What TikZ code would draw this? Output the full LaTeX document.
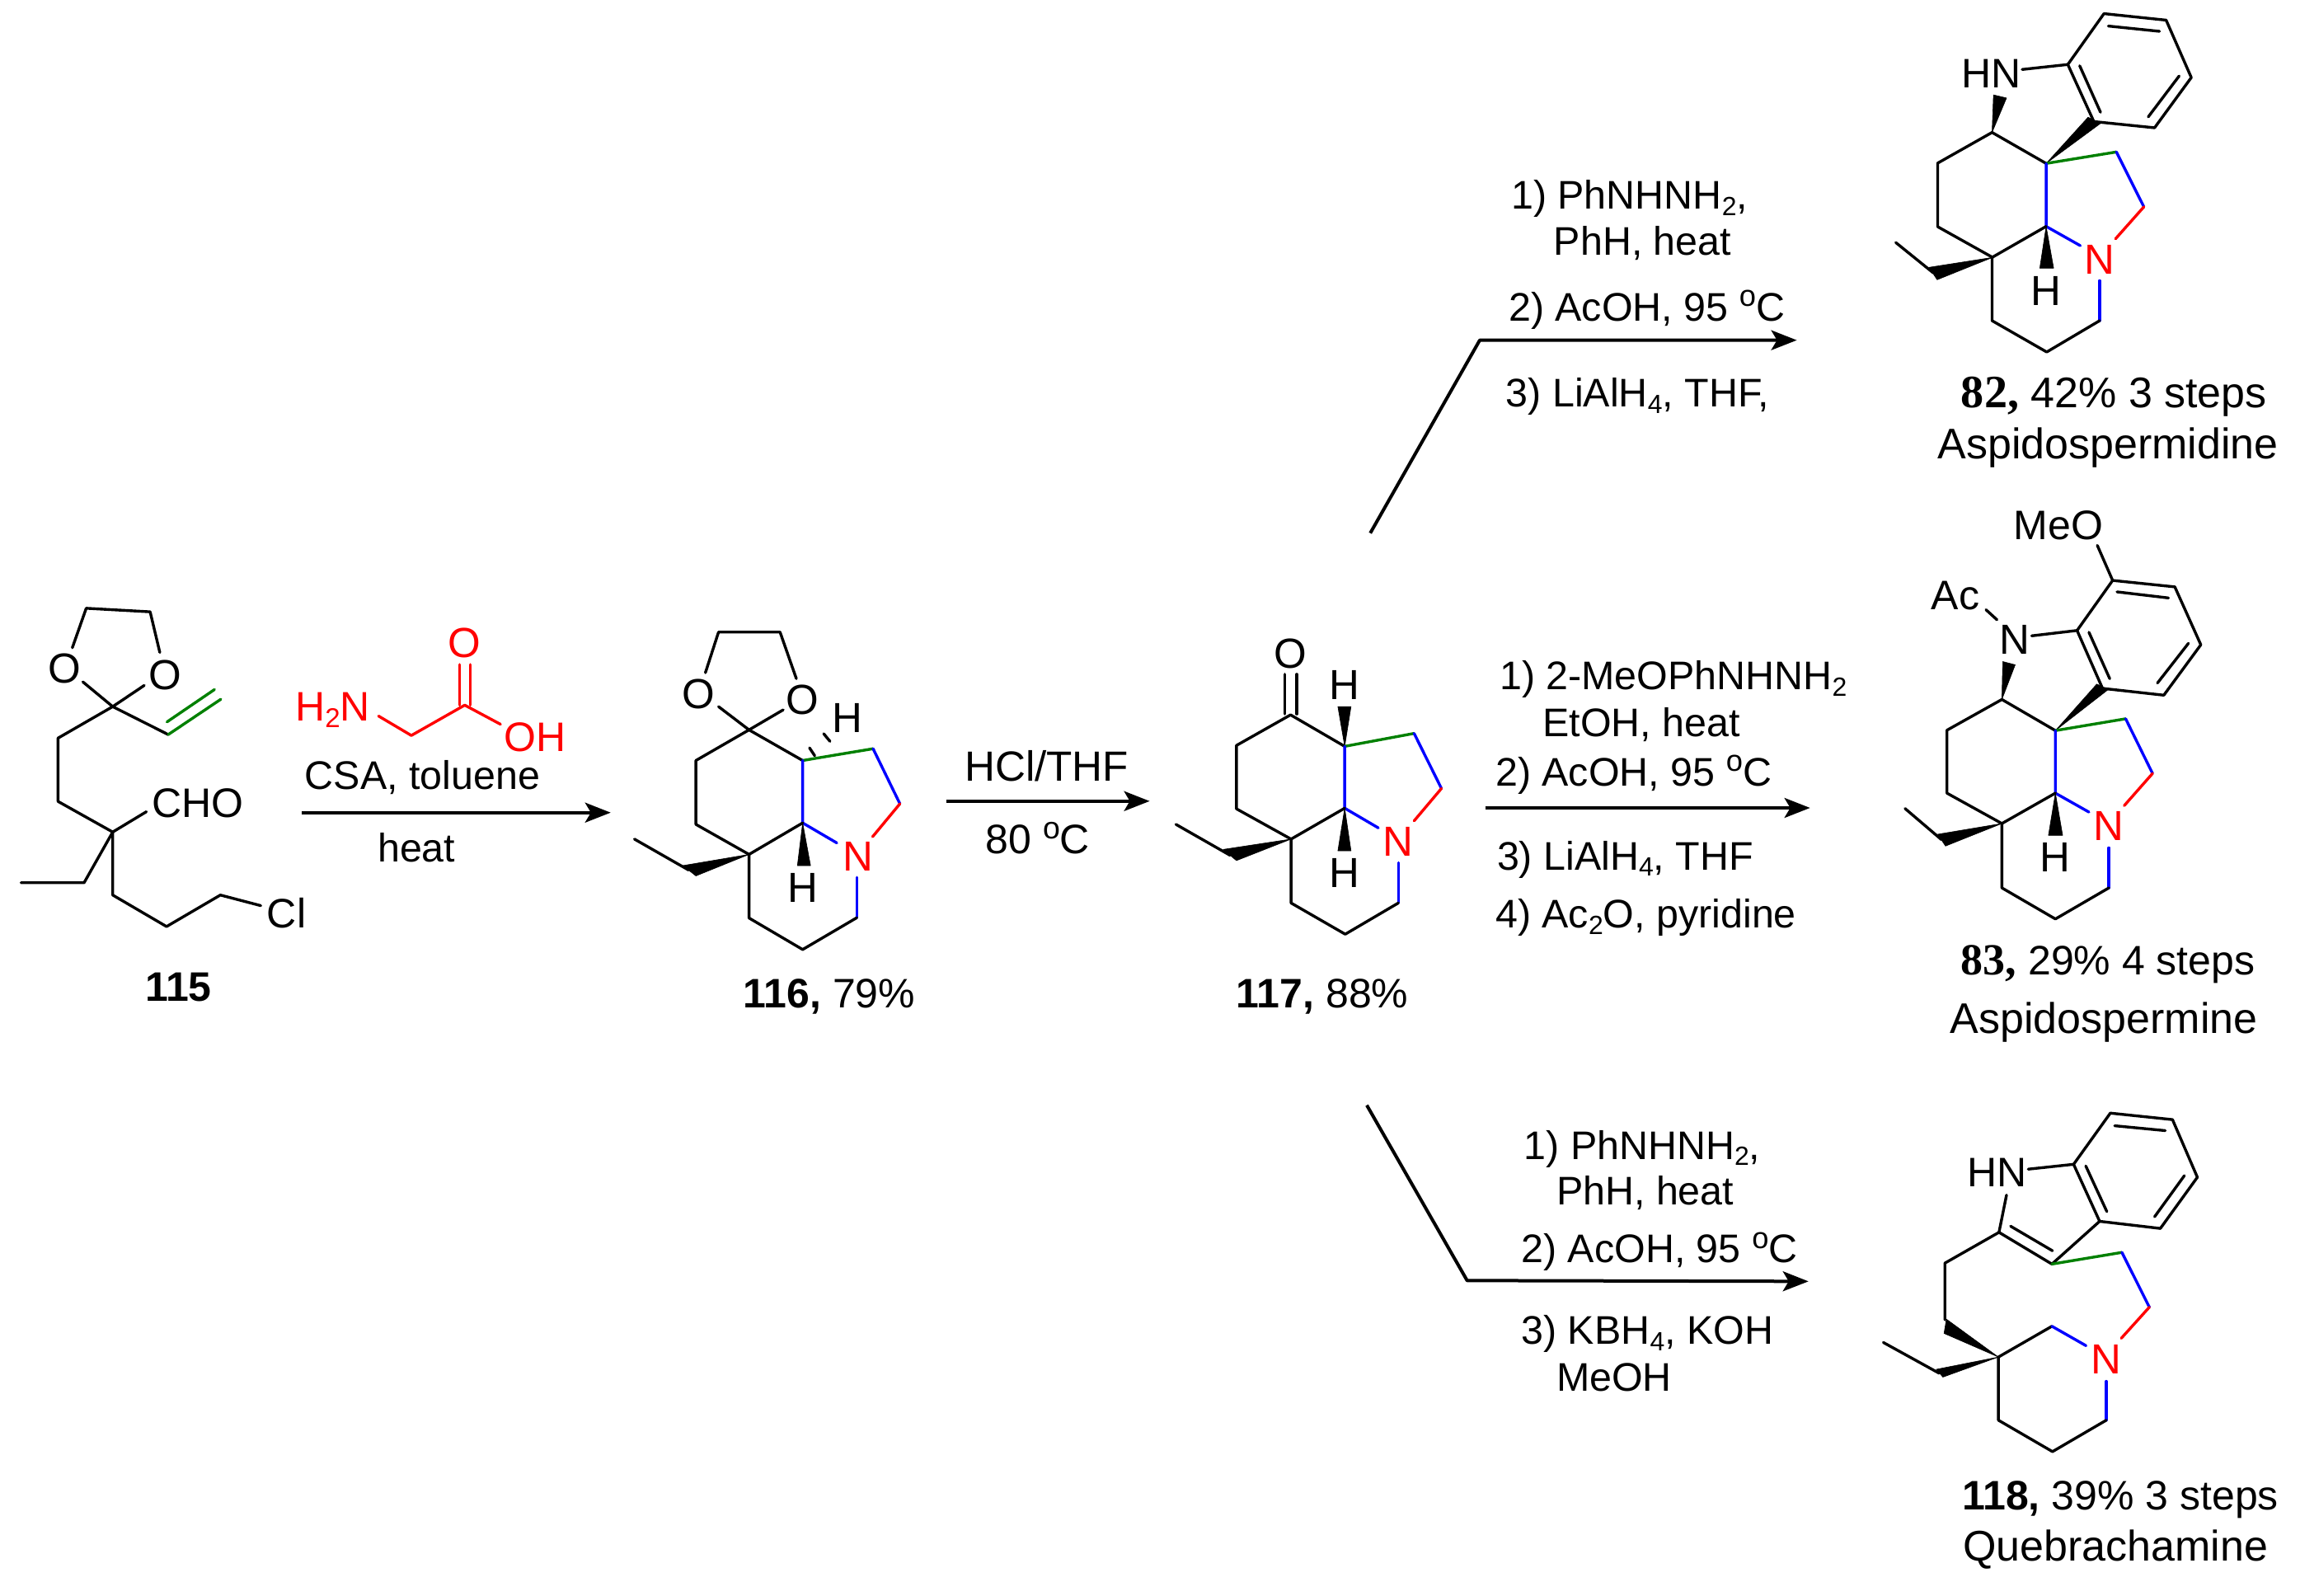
\documentclass[tikz,border=0pt]{standalone}
\usepackage{fontspec}
\usepackage{graphicx}
\setmainfont{Liberation Sans}
\newfontfamily\timesb{Liberation Serif}[Scale=1.08]
\usetikzlibrary{arrows.meta}
\definecolor{chemgreen}{RGB}{0,128,0}
\definecolor{chemblue}{RGB}{0,0,255}
\definecolor{chemred}{RGB}{255,0,0}
\newcommand{\subs}[1]{\raisebox{-.16em}{\scalebox{.66}{#1}}}
\newcommand{\degr}{\raisebox{.36em}{\scalebox{.75}{o}}}
\tikzset{
  bond/.style={line width=1.7pt,line cap=round,line join=round,black},
  bondg/.style={bond,chemgreen},
  bondb/.style={bond,chemblue},
  bondr/.style={bond,chemred},
  wedgeb/.style={fill=black,draw=black,line width=.3pt,line join=round},
  rxn/.style={line width=2pt,line join=round,-{Stealth[length=15.5pt,width=12pt,inset=3.5pt]}},
  txt/.style={anchor=base west,inner sep=0pt,outer sep=0pt,font=\fontsize{24.2}{28}\selectfont},
  txtb/.style={txt,font=\fontsize{25}{28}\selectfont},
  lbl/.style={txt,font=\fontsize{26}{30}\selectfont},
  atom/.style={anchor=center,inner sep=0pt,outer sep=0pt,font=\fontsize{25.5}{28}\selectfont},
  atomr/.style={atom,text=chemred},
  crop/.style n args={4}{shift={(#1*0.5pt,-#2*0.5pt)},x=#3pt,y=-#4pt},
}
\begin{document}
\begin{tikzpicture}
\useasboundingbox (0,0) rectangle (1395pt,-968pt);

% ---- 115, glycine, first arrow
\begin{scope}[crop={0}{700}{0.2551}{0.17857}]
\draw[bond] (172,240)--(205,106)--(357,118)--(380,256);
\node[atom] (o1a) at (153,311) {O};
\node[atom] (o1b) at (392,332) {O};
\draw[bond] (197,356)--(268,440)--(343,368);
\draw[bond] (268,440)--(138,547)--(138,762)--(268,866);
\draw[bond] (268,440)--(400,535);
\draw[bondg] (400,535)--(525,415) (397,492)--(510,382);
\draw[bond] (268,866)--(348,797);
\node[txtb] (cho) at (362,817) {CHO};
\draw[bond] (268,866)--(200,1038)--(50,1038);
\draw[bond] (268,866)--(268,1080)--(396,1187)--(524,1080)--(620,1116);
\node[txtb] (cl) at (635,1190) {Cl};
\node[txtb,font=\fontsize{25}{28}\selectfont\bfseries] (n115) at (345,1440) {115};
% glycine
\node[txtb,text=chemred] (h2n) at (702,488) {H\subs{2}N};
\draw[bondr] (900,472)--(978,538)--(1105,435)--(1190,500);
\draw[bondr] (1093,435)--(1093,297) (1118,435)--(1118,297);
\node[atomr] (gO) at (1105,223) {O};
\node[txtb,text=chemred] (gOH) at (1198,592) {OH};
\node[txt] (csa) at (725,722) {CSA, toluene};
\node[txt] (heat1) at (898,968) {heat};
\coordinate (a1s) at (718,800);
\coordinate (a1e) at (1452,800);
\draw[rxn] (a1s)--(a1e);
\end{scope}

% ---- 116, 117, second arrow
\begin{scope}[crop={760}{700}{0.31888}{0.17857}]
\draw[bond] (150,325)--(175,187)--(292,187)--(323,345);
\node[atom] (o2a) at (137,398) {O};
\node[atom] (o2b) at (335,417) {O};
\draw[bond] (175,440)--(233,519)--(298,451);
\draw[bond] (233,519)--(132,623)--(132,840)--(233,942);
\draw[bond] (233,519)--(335,623);
\draw[bond] (348,580)--(358,607) (375,532)--(387,558);
\node[atom] (h2a) at (420,480) {H};
\draw[bondg] (335,623)--(469,583);
\draw[bondb] (335,623)--(335,835) (469,583)--(520,770);
\draw[bondr] (520,770)--(468,882);
\draw[bondb] (335,835)--(400,903);
\node[atomr] (n2) at (440,948) {N};
\draw[bondb] (438,1020)--(438,1157);
\draw[bond] (438,1157)--(335,1265)--(233,1158)--(233,942)--(335,835);
\fill[wedgeb] (335,835)--(325,980)--(350,980)--cycle;
\node[atom] (h2b) at (335,1055) {H};
\fill[wedgeb] (233,942)--(107,980)--(132,1015)--cycle;
\draw[bond] (15,890)--(118,995);
\node[txtb] (n116) at (222,1462) {\textbf{116,} 79\%};
% arrow 2
\node[txt,font=\fontsize{25.6}{28}\selectfont] (hcl) at (643,692) {HCl/THF};
\node[txt,font=\fontsize{25}{28}\selectfont] (t80) at (683,940) {80 \degr C};
\coordinate (a2s) at (608,761);
\coordinate (a2e) at (995,761);
\draw[rxn] (a2s)--(a2e);
% 117
\node[atom] (o3) at (1263,260) {O};
\draw[bond] (1252,465)--(1252,330) (1275,465)--(1275,330);
\draw[bond] (1263,468)--(1160,572)--(1160,787)--(1264,890);
\draw[bond] (1263,468)--(1366,575);
\fill[wedgeb] (1366,575)--(1353,440)--(1378,440)--cycle;
\node[atom] (h3a) at (1366,367) {H};
\draw[bondg] (1366,575)--(1498,531);
\draw[bondb] (1366,575)--(1366,785) (1498,531)--(1550,718);
\draw[bondr] (1550,718)--(1498,828);
\draw[bondb] (1366,785)--(1430,852);
\node[atomr] (n3) at (1468,898) {N};
\draw[bondb] (1468,970)--(1468,1107);
\draw[bond] (1468,1107)--(1367,1213)--(1264,1107)--(1264,890)--(1366,785);
\fill[wedgeb] (1366,785)--(1353,930)--(1378,930)--cycle;
\node[atom] (h3b) at (1366,1005) {H};
\fill[wedgeb] (1264,890)--(1135,925)--(1160,963)--cycle;
\draw[bond] (1045,840)--(1148,945);
\node[txtb] (n117) at (1160,1462) {\textbf{117,} 88\%};
\end{scope}

% ---- 82
\begin{scope}[crop={2240}{0}{0.17538}{0.18811}]
\node[txtb] (hn82) at (398,282) {HN};
\draw[bond] (607,224)--(765,208);
\draw[bond] (765,208)--(890,44)--(1105,65)--(1192,250)--(1065,412)--(855,392)--cycle;
\draw[bond] (905,84)--(1082,101) (1150,245)--(1043,377) (806,212)--(878,362);
\fill[wedgeb] (690,527)--(835,378)--(878,398)--cycle;
\fill[wedgeb] (503,427)--(508,306)--(553,316)--cycle;
\draw[bond] (690,527)--(503,427)--(315,526)--(315,731)--(505,830);
\draw[bondg] (690,527)--(933,490);
\draw[bondb] (690,527)--(690,730) (933,490)--(1028,667);
\draw[bondr] (1028,667)--(930,770);
\draw[bondb] (690,730)--(808,792);
\node[atomr] (n82) at (875,838) {N};
\draw[bondb] (875,905)--(875,1034);
\draw[bond] (875,1034)--(692,1135)--(503,1034)--(503,830)--(690,730);
\fill[wedgeb] (690,730)--(668,865)--(716,865)--cycle;
\node[atom] (h82) at (690,938) {H};
\fill[wedgeb] (505,830)--(285,862)--(313,902)--cycle;
\draw[bond] (170,782)--(300,880);
\node[lbl] (l82) at (396,1315) {{\timesb\bfseries 82,} 42\% 3 steps};
\node[lbl] (a82) at (315,1478) {Aspidospermidine};
\end{scope}

% ---- 83
\begin{scope}[crop={2240}{600}{0.17538}{0.21683}]
\node[txtb] (meo) at (578,126) {MeO};
\draw[bond] (867,142)--(920,240);
\draw[bond] (920,240)--(1135,258)--(1225,420)--(1097,561)--(885,542)--(797,380)--cycle;
\draw[bond] (935,272)--(1113,289) (1182,416)--(1075,527) (838,385)--(910,515);
\node[atom] (n83a) at (580,405) {N};
\node[txtb] (ac) at (293,322) {Ac};
\draw[bond] (482,322)--(520,350);
\draw[bond] (640,395)--(797,380);
\fill[wedgeb] (722,660)--(865,530)--(905,545)--cycle;
\fill[wedgeb] (537,573)--(540,467)--(583,476)--cycle;
\draw[bond] (722,660)--(537,573)--(347,659)--(347,835)--(537,920);
\draw[bondg] (722,660)--(965,627);
\draw[bondb] (722,660)--(722,835) (965,627)--(1058,780);
\draw[bondr] (1058,780)--(960,870);
\draw[bondb] (722,835)--(838,888);
\node[atomr] (n83) at (907,928) {N};
\draw[bondb] (907,988)--(907,1100);
\draw[bond] (907,1100)--(722,1187)--(537,1100)--(537,920)--(722,835);
\fill[wedgeb] (722,835)--(698,953)--(747,953)--cycle;
\node[atom] (h83) at (722,1015) {H};
\fill[wedgeb] (537,920)--(315,950)--(342,983)--cycle;
\draw[bond] (202,878)--(328,965);
\node[txtb] (l83) at (396,1343) {{\timesb\bfseries 83,} 29\% 4 steps};
\node[lbl] (a83) at (358,1508) {Aspidospermine};
\end{scope}

% ---- 118
\begin{scope}[crop={2240}{1320}{0.17538}{0.19646}]
\node[txtb] (hn118) at (418,305) {HN};
\draw[bond] (628,250)--(785,235);
\draw[bond] (785,235)--(912,77)--(1127,97)--(1213,275)--(1085,433)--(875,411)--cycle;
\draw[bond] (927,116)--(1102,131) (1168,270)--(1065,397) (827,240)--(900,381);
\draw[bond] (553,330)--(527,445)--(710,543)--(875,411);
\draw[bond] (567,426)--(712,502);
\draw[bondg] (710,543)--(952,507);
\draw[bondb] (952,507)--(1047,676);
\draw[bondr] (1047,676)--(950,772);
\draw[bond] (527,445)--(340,540)--(340,715);
\fill[wedgeb] (525,830)--(345,713)--(337,757)--cycle;
\fill[wedgeb] (525,830)--(310,868)--(333,892)--cycle;
\draw[bond] (127,785)--(320,880);
\draw[bond] (525,830)--(710,735);
\draw[bondb] (710,735)--(828,795);
\node[atomr] (n118) at (898,838) {N};
\draw[bondb] (898,905)--(898,1025);
\draw[bond] (898,1025)--(712,1122)--(525,1025)--(525,830);
\node[txtb] (l118) at (400,1303) {\textbf{118,} 39\% 3 steps};
\node[lbl] (a118) at (402,1460) {Quebrachamine};
\end{scope}

% ---- reagents to 82
\begin{scope}[crop={1640}{180}{0.19135}{0.16667}]
\node[txt] (r1a) at (505,222) {1) PhNHNH\subs{2},};
\node[txt] (r1b) at (640,388) {PhH, heat};
\node[txt] (r1c) at (497,628) {2) AcOH, 95 \degr C};
\node[txt] (r1d) at (488,940) {3) LiAlH\subs{4}, THF,};
\coordinate (a3s) at (58,1400);
\coordinate (a3m) at (405,698);
\coordinate (a3e) at (1410,698);
\draw[rxn] (a3s)--(a3m)--(a3e);
\end{scope}

% ---- reagents to 83
\begin{scope}[crop={1640}{780}{0.19135}{0.16667}]
\node[txt] (r2a) at (468,170) {1) 2-MeOPhNHNH\subs{2}};
\node[txt] (r2b) at (605,340) {EtOH, heat};
\node[txt] (r2c) at (455,520) {2) AcOH, 95 \degr C};
\node[txt] (r2d) at (460,825) {3) LiAlH\subs{4}, THF};
\node[txt] (r2e) at (455,1037) {4) Ac\subs{2}O, pyridine};
\coordinate (a4s) at (422,600);
\coordinate (a4e) at (1452,600);
\draw[rxn] (a4s)--(a4e);
\end{scope}

% ---- reagents to 118
\begin{scope}[crop={1640}{1320}{0.19135}{0.16667}]
\node[txt] (r3a) at (545,258) {1) PhNHNH\subs{2},};
\node[txt] (r3b) at (648,425) {PhH, heat};
\node[txt] (r3c) at (537,635) {2) AcOH, 95 \degr C};
\node[txt] (r3d) at (537,932) {3) KBH\subs{4}, KOH};
\node[txt] (r3e) at (648,1102) {MeOH};
\coordinate (a5s) at (47,62);
\coordinate (a5m) at (365,700);
\coordinate (a5e) at (1447,703);
\draw[rxn] (a5s)--(a5m)--(a5e);
\end{scope}
\end{tikzpicture}
\end{document}
